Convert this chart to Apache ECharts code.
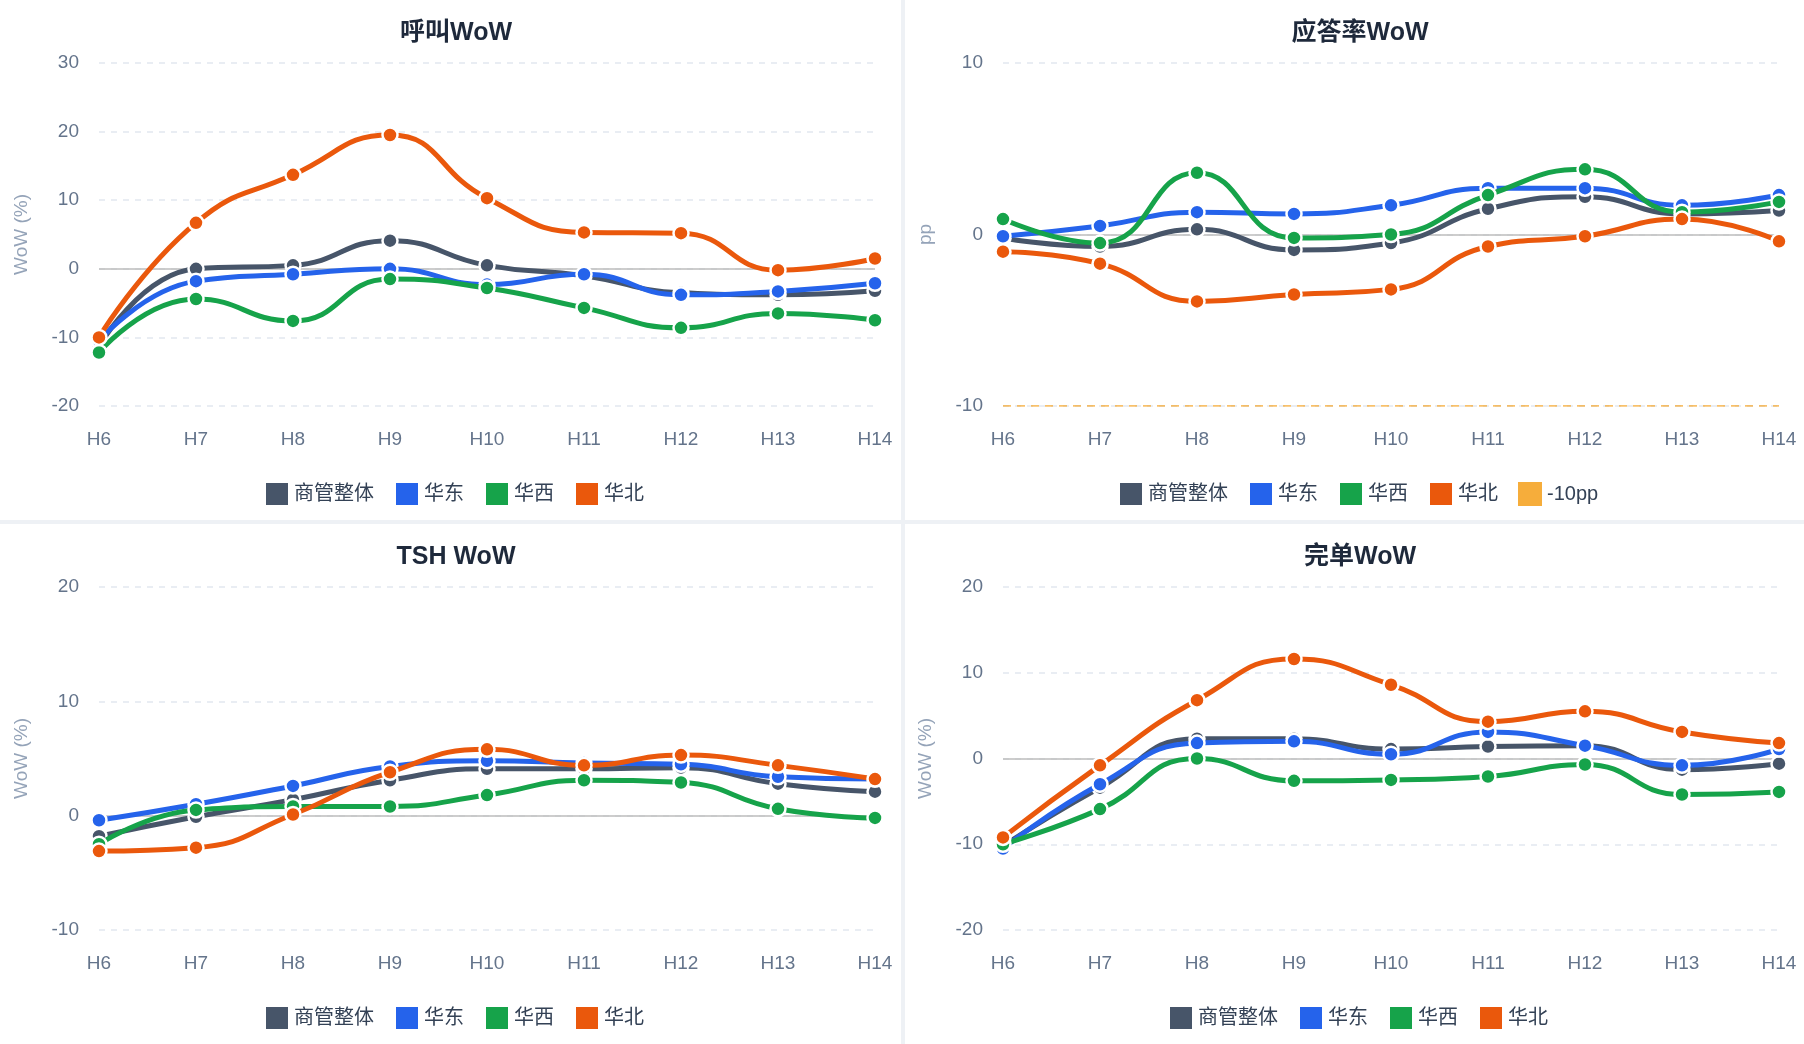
<!DOCTYPE html>
<html>
<head>
<meta charset="utf-8">
<script src="https://cdn.jsdelivr.net/npm/echarts@6/dist/echarts.min.js"></script>
<style>
html,body{margin:0;padding:0;background:#fff;}
#main{width:1804px;height:1044px;}
</style>
</head>
<body>
<div id="main"></div>
<script>
// 横轴
var hours = ['H6', 'H7', 'H8', 'H9', 'H10', 'H11', 'H12', 'H13', 'H14'];
var seriesNames = ['商管整体', '华东', '华西', '华北'];
var colors = ['#475569', '#2563eb', '#16a34a', '#ea580c'];

// 呼叫WoW
var callTotal = [-11.3, 0, 0.5, 4.1, 0.5, -1, -3.5, -3.8, -3.2];
var callEast = [-10.5, -1.8, -0.8, 0, -2.3, -0.8, -3.8, -3.3, -2.1];
var callWest = [-12.2, -4.4, -7.6, -1.5, -2.8, -5.7, -8.6, -6.5, -7.5];
var callNorth = [-10, 6.7, 13.7, 19.5, 10.3, 5.3, 5.2, -0.2, 1.5];

// 应答率WoW (pp)
var ansTotal = [-0.2, -0.7, 0.3, -0.9, -0.5, 1.5, 2.2, 1.2, 1.4];
var ansEast = [-0.1, 0.5, 1.3, 1.2, 1.7, 2.7, 2.7, 1.7, 2.3];
var ansWest = [0.9, -0.5, 3.6, -0.2, 0, 2.3, 3.8, 1.3, 1.9];
var ansNorth = [-1, -1.7, -3.9, -3.5, -3.2, -0.7, -0.1, 0.9, -0.4];
var ansThreshold = [-10, -10, -10, -10, -10, -10, -10, -10, -10];

// TSH WoW
var tshTotal = [-1.8, -0.1, 1.4, 3.1, 4.1, 4.1, 4.2, 2.8, 2.1];
var tshEast = [-0.4, 1, 2.6, 4.3, 4.8, 4.6, 4.5, 3.4, 3.2];
var tshWest = [-2.5, 0.5, 0.8, 0.8, 1.8, 3.1, 2.9, 0.6, -0.2];
var tshNorth = [-3.1, -2.8, 0.1, 3.8, 5.8, 4.4, 5.3, 4.4, 3.2];

// 完单WoW
var doneTotal = [-10.2, -3.4, 2.3, 2.3, 1.1, 1.4, 1.5, -1.3, -0.6];
var doneEast = [-10.5, -3, 1.8, 2, 0.5, 3.1, 1.5, -0.8, 1.1];
var doneWest = [-10, -5.9, 0, -2.6, -2.5, -2.1, -0.7, -4.2, -3.9];
var doneNorth = [-9.2, -0.8, 6.8, 11.6, 8.6, 4.3, 5.5, 3.1, 1.8];

var panels = [
    {title: '呼叫WoW', yName: 'WoW (%)', min: -20, max: 30, data: [callTotal, callEast, callWest, callNorth]},
    {title: '应答率WoW', yName: 'pp', min: -10, max: 10, data: [ansTotal, ansEast, ansWest, ansNorth], threshold: ansThreshold},
    {title: 'TSH WoW', yName: 'WoW (%)', min: -10, max: 20, data: [tshTotal, tshEast, tshWest, tshNorth]},
    {title: '完单WoW', yName: 'WoW (%)', min: -20, max: 20, data: [doneTotal, doneEast, doneWest, doneNorth]}
];

var W = 902, H = 522;
var font = 'Liberation Sans, Noto Sans CJK SC, sans-serif';
var option = {
    animation: false,
    textStyle: {fontFamily: font},
    title: [], legend: [], grid: [], xAxis: [], yAxis: [], series: [],
    graphic: [
        {type: 'rect', shape: {x: 901, y: 0, width: 4, height: 1044}, style: {fill: '#eef1f5'}, silent: true},
        {type: 'rect', shape: {x: 0, y: 520, width: 1804, height: 4}, style: {fill: '#eef1f5'}, silent: true}
    ]
};

panels.forEach(function (p, i) {
    var ox = (i % 2) * W + (i % 2) * 2;
    var oy = Math.floor(i / 2) * H + Math.floor(i / 2) * 2;
    option.title.push({
        text: p.title, left: ox + 451, top: oy + 16, textAlign: 'center',
        textStyle: {fontSize: 25, fontWeight: 'bold', color: '#1e293b', fontFamily: font}
    });
    var legendData = seriesNames.slice();
    //图例居中：估算宽度
    var legendWidth = 384;
    if (p.threshold) {
        legendData.push('-10pp');
        legendWidth = 484;
    }
    option.legend.push({
        data: legendData, left: ox + 451 - legendWidth / 2, top: oy + 476,
        icon: 'rect', itemWidth: 24, itemHeight: 24, itemGap: 20,
        textStyle: {fontSize: 20, color: '#334155', fontFamily: font}
    });
    option.grid.push({left: ox + 99, width: 776, top: oy + 63, height: 343});
    option.xAxis.push({
        gridIndex: i, type: 'category', data: hours, boundaryGap: false,
        axisLine: {show: false}, axisTick: {show: false},
        axisLabel: {margin: 24, fontSize: 19, color: '#64748b'}
    });
    option.yAxis.push({
        gridIndex: i, type: 'value', min: p.min, max: p.max, interval: 10,
        name: p.yName, nameLocation: 'middle', nameGap: 68,
        nameTextStyle: {fontSize: 19, color: '#94a3b8'},
        axisLine: {show: false}, axisTick: {show: false},
        axisLabel: {fontSize: 19, color: '#64748b', margin: 20},
        splitLine: {lineStyle: {color: '#e2e8f0', type: [6, 6], width: 1.5}}
    });
    p.data.forEach(function (d, k) {
        var s = {
            name: seriesNames[k], type: 'line', xAxisIndex: i, yAxisIndex: i, data: d,
            smooth: 0.5, symbol: 'circle', symbolSize: 15,
            lineStyle: {width: 5, color: colors[k]},
            itemStyle: {color: colors[k], borderColor: '#fff', borderWidth: 2.5},
            z: 3 + k
        };
        if (k == 0) {
            // 零线
            s.markLine = {
                silent: true, symbol: 'none', label: {show: false},
                lineStyle: {color: '#bdbdbd', type: 'solid', width: 1.5},
                data: [{yAxis: 0}], z: 1
            };
        }
        option.series.push(s);
    });
    if (p.threshold) {
        option.series.push({
            name: '-10pp', type: 'line', xAxisIndex: i, yAxisIndex: i, data: p.threshold,
            symbol: 'none', lineStyle: {width: 1.5, type: [8, 6], color: '#f6ad3b'},
            itemStyle: {color: '#f6ad3b'}, z: 2
        });
    }
});

var chart = echarts.init(document.getElementById('main'));
chart.setOption(option);
</script>
</body>
</html>
